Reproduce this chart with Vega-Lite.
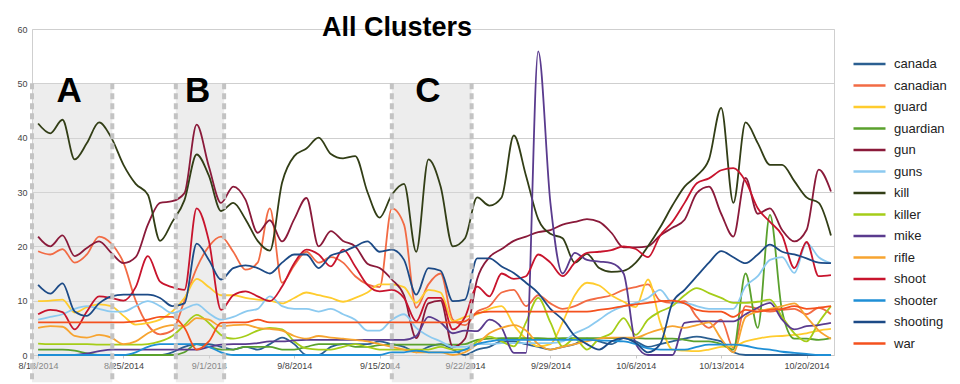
{
"$schema":"https://vega.github.io/schema/vega-lite/v6.json",
"width":802,"height":326,
"autosize":{"type":"none"},
"padding":{"left":32,"top":29,"right":126,"bottom":29},
"background":"white",
"config":{"view":{"stroke":"#cfcfcf"},"font":"Liberation Sans"},
"title":{"text":"All Clusters","anchor":"start","frame":"group","dx":290,"fontSize":27,"fontWeight":"bold","font":"Liberation Sans","color":"#000","baseline":"alphabetic","offset":-38},
"datasets":{
"zones":[{"t":"2014-08-17T12:00","t2":"2014-08-24T02:00"},{"t":"2014-08-29T07:00","t2":"2014-09-02T06:00"},{"t":"2014-09-16T00:00","t2":"2014-09-22T13:00"}],
"edges":[{"t":"2014-08-17T12:00"},{"t":"2014-08-24T02:00"},{"t":"2014-08-29T07:00"},{"t":"2014-09-02T06:00"},{"t":"2014-09-16T00:00"},{"t":"2014-09-22T13:00"}],
"labels":[{"t":"2014-08-20T13:00","l":"A"},{"t":"2014-08-31T02:00","l":"B"},{"t":"2014-09-18T23:00","l":"C"}],
"series":[
{"t":"2014-08-18T00:00","canada":0,"canadian":19.1,"guard":9.9,"guardian":1,"gun":21.8,"guns":6.5,"kill":42.6,"killer":2.1,"mike":0,"rifle":5,"shoot":7.5,"shooter":0,"shooting":12.9,"war":6},
{"t":"2014-08-19T00:00","canada":0,"canadian":18.5,"guard":10,"guardian":1,"gun":20,"guns":7,"kill":40.8,"killer":2,"mike":0,"rifle":5.3,"shoot":8.3,"shooter":0,"shooting":11.3,"war":6},
{"t":"2014-08-20T00:00","canada":0,"canadian":19.5,"guard":10.2,"guardian":1,"gun":22,"guns":7.5,"kill":43.3,"killer":2,"mike":0,"rifle":5.2,"shoot":7.9,"shooter":0,"shooting":13.2,"war":6},
{"t":"2014-08-21T00:00","canada":0,"canadian":17,"guard":7.8,"guardian":0.8,"gun":18.2,"guns":8.5,"kill":36,"killer":2,"mike":0,"rifle":3.5,"shoot":4.7,"shooter":0,"shooting":8,"war":6},
{"t":"2014-08-22T00:00","canada":0,"canadian":18.5,"guard":8.8,"guardian":0.3,"gun":19.7,"guns":9,"kill":39,"killer":2,"mike":0.3,"rifle":3.2,"shoot":8,"shooter":0,"shooting":7.2,"war":6},
{"t":"2014-08-23T00:00","canada":0,"canadian":21.8,"guard":9.3,"guardian":0,"gun":20.9,"guns":8.5,"kill":42.8,"killer":1.9,"mike":0.7,"rifle":3.7,"shoot":10.8,"shooter":0,"shooting":9.5,"war":6},
{"t":"2014-08-24T00:00","canada":0,"canadian":20.5,"guard":9,"guardian":0,"gun":18.8,"guns":8,"kill":40,"killer":1.9,"mike":1,"rifle":3.2,"shoot":10.5,"shooter":0,"shooting":10.8,"war":6},
{"t":"2014-08-25T00:00","canada":0,"canadian":17,"guard":7.2,"guardian":0,"gun":16.9,"guns":8,"kill":35,"killer":1.9,"mike":1,"rifle":2,"shoot":10,"shooter":0,"shooting":11.1,"war":6},
{"t":"2014-08-26T00:00","canada":0,"canadian":10,"guard":5.6,"guardian":0,"gun":18,"guns":9,"kill":31.5,"killer":1.9,"mike":1,"rifle":2.5,"shoot":12.5,"shooter":0.5,"shooting":11.1,"war":6.2},
{"t":"2014-08-27T00:00","canada":0,"canadian":5.5,"guard":5.9,"guardian":0,"gun":24,"guns":9.9,"kill":29.5,"killer":2,"mike":1,"rifle":4,"shoot":18.2,"shooter":1.5,"shooting":11.1,"war":6.5},
{"t":"2014-08-28T00:00","canada":0,"canadian":3.8,"guard":6.5,"guardian":0,"gun":28,"guns":9,"kill":21,"killer":2.5,"mike":1,"rifle":5,"shoot":13.5,"shooter":2,"shooting":10.5,"war":7},
{"t":"2014-08-29T00:00","canada":0.5,"canadian":4.5,"guard":8,"guardian":0,"gun":28.3,"guns":7.7,"kill":24.5,"killer":3.5,"mike":1,"rifle":5.5,"shoot":12.5,"shooter":2,"shooting":9,"war":7},
{"t":"2014-08-30T00:00","canada":1.5,"canadian":10,"guard":10.5,"guardian":0.5,"gun":29.8,"guns":8.5,"kill":28.5,"killer":5.5,"mike":1,"rifle":5.3,"shoot":12,"shooter":2,"shooting":9.5,"war":5},
{"t":"2014-08-31T00:00","canada":2,"canadian":16,"guard":14,"guardian":2,"gun":42.4,"guns":9.3,"kill":36.9,"killer":7.4,"mike":1,"rifle":6.8,"shoot":27,"shooter":2,"shooting":20.5,"war":1},
{"t":"2014-09-01T00:00","canada":2,"canadian":20,"guard":12.5,"guardian":1.5,"gun":34.7,"guns":7.7,"kill":33,"killer":5.9,"mike":1.5,"rifle":6.5,"shoot":21,"shooter":1.5,"shooting":17.5,"war":2.5},
{"t":"2014-09-02T00:00","canada":1.5,"canadian":21.8,"guard":11,"guardian":1,"gun":28,"guns":6.5,"kill":26.5,"killer":3.7,"mike":1.9,"rifle":5.3,"shoot":8.3,"shooter":0.5,"shooting":13.9,"war":5.9},
{"t":"2014-09-03T00:00","canada":1,"canadian":19,"guard":11,"guardian":1,"gun":31,"guns":7,"kill":28,"killer":3,"mike":2,"rifle":5.5,"shoot":11,"shooter":0,"shooting":16,"war":6},
{"t":"2014-09-04T00:00","canada":1.5,"canadian":15.7,"guard":10.5,"guardian":1.5,"gun":28.6,"guns":8,"kill":25,"killer":3.5,"mike":2,"rifle":5.6,"shoot":11.7,"shooter":0,"shooting":16.5,"war":6},
{"t":"2014-09-05T00:00","canada":1,"canadian":17,"guard":10.2,"guardian":1.5,"gun":22.5,"guns":8.5,"kill":21,"killer":4.5,"mike":2.2,"rifle":5,"shoot":10.8,"shooter":0,"shooting":16,"war":6.5},
{"t":"2014-09-06T00:00","canada":2,"canadian":27,"guard":10,"guardian":1.5,"gun":24.8,"guns":10.8,"kill":19.2,"killer":5,"mike":2.5,"rifle":4.8,"shoot":9.9,"shooter":0,"shooting":15,"war":6},
{"t":"2014-09-07T00:00","canada":3.2,"canadian":13.3,"guard":9.5,"guardian":1,"gun":20.9,"guns":9,"kill":31.7,"killer":4.7,"mike":2.5,"rifle":4.5,"shoot":12.6,"shooter":0,"shooting":17,"war":6},
{"t":"2014-09-08T00:00","canada":2,"canadian":16.5,"guard":10.5,"guardian":1,"gun":25,"guns":8.5,"kill":36.6,"killer":2.5,"mike":2.7,"rifle":3.5,"shoot":16.9,"shooter":0,"shooting":18.5,"war":6},
{"t":"2014-09-09T00:00","canada":0,"canadian":19,"guard":11.5,"guardian":1.5,"gun":28.9,"guns":8.5,"kill":38,"killer":1.2,"mike":2.8,"rifle":3,"shoot":19.4,"shooter":0,"shooting":18.5,"war":6},
{"t":"2014-09-10T00:00","canada":0,"canadian":17,"guard":11,"guardian":2,"gun":20,"guns":8,"kill":40,"killer":1,"mike":2.8,"rifle":3.5,"shoot":18.5,"shooter":0,"shooting":16,"war":6},
{"t":"2014-09-11T00:00","canada":1.5,"canadian":18,"guard":10.5,"guardian":2,"gun":22.8,"guns":8.5,"kill":37,"killer":1,"mike":2.8,"rifle":3.2,"shoot":16.3,"shooter":0,"shooting":18.3,"war":6},
{"t":"2014-09-12T00:00","canada":2,"canadian":17,"guard":9.8,"guardian":2,"gun":21,"guns":7.5,"kill":36.2,"killer":1.5,"mike":2.8,"rifle":3,"shoot":19.4,"shooter":0,"shooting":19,"war":6},
{"t":"2014-09-13T00:00","canada":2,"canadian":14.5,"guard":10.5,"guardian":1.5,"gun":20,"guns":6.5,"kill":36.6,"killer":2,"mike":2.8,"rifle":2.8,"shoot":16.3,"shooter":0,"shooting":20,"war":6},
{"t":"2014-09-14T00:00","canada":2,"canadian":13,"guard":11.5,"guardian":1.5,"gun":16.8,"guns":4.5,"kill":30,"killer":1.5,"mike":2.8,"rifle":2.5,"shoot":12.9,"shooter":0,"shooting":20.9,"war":6},
{"t":"2014-09-15T00:00","canada":2.5,"canadian":12.5,"guard":13,"guardian":1.8,"gun":16,"guns":4.5,"kill":25.3,"killer":1,"mike":2.8,"rifle":2,"shoot":11.7,"shooter":0,"shooting":19,"war":6},
{"t":"2014-09-16T00:00","canada":2,"canadian":27,"guard":13,"guardian":1.9,"gun":13.9,"guns":6.5,"kill":29.5,"killer":1,"mike":2.8,"rifle":1.5,"shoot":12,"shooter":0.5,"shooting":19.4,"war":6},
{"t":"2014-09-17T00:00","canada":1.5,"canadian":24,"guard":12.5,"guardian":1.9,"gun":11,"guns":7.5,"kill":31.5,"killer":1,"mike":2.8,"rifle":1,"shoot":10.5,"shooter":0.5,"shooting":17.5,"war":6},
{"t":"2014-09-18T00:00","canada":0.5,"canadian":8.7,"guard":9.6,"guardian":1.9,"gun":3.1,"guns":5,"kill":19,"killer":1,"mike":3.5,"rifle":0.5,"shoot":6.2,"shooter":0.8,"shooting":11.1,"war":6},
{"t":"2014-09-19T00:00","canada":1.5,"canadian":13,"guard":12,"guardian":1.9,"gun":9.5,"guns":3.5,"kill":36,"killer":1,"mike":7,"rifle":0.5,"shoot":10.5,"shooter":0.5,"shooting":16,"war":6},
{"t":"2014-09-20T00:00","canada":2,"canadian":15,"guard":11.5,"guardian":1.9,"gun":10,"guns":2.5,"kill":31,"killer":1.5,"mike":6,"rifle":0.5,"shoot":10.5,"shooter":0.5,"shooting":15.5,"war":6},
{"t":"2014-09-21T00:00","canada":1,"canadian":6.5,"guard":6.2,"guardian":1.9,"gun":1.5,"guns":1.5,"kill":20,"killer":1,"mike":4,"rifle":0,"shoot":4.7,"shooter":0.5,"shooting":9.9,"war":6},
{"t":"2014-09-22T00:00","canada":0,"canadian":5.5,"guard":7,"guardian":2,"gun":3,"guns":1.5,"kill":21.5,"killer":1,"mike":4.5,"rifle":0.5,"shoot":7,"shooter":1,"shooting":10.2,"war":6.2},
{"t":"2014-09-23T00:00","canada":1,"canadian":8,"guard":7.5,"guardian":2.8,"gun":14,"guns":2,"kill":29,"killer":2.5,"mike":4.4,"rifle":2,"shoot":12.6,"shooter":2,"shooting":17.8,"war":7.7},
{"t":"2014-09-24T00:00","canada":1.5,"canadian":9,"guard":8.5,"guardian":3,"gun":18,"guns":2,"kill":27.5,"killer":3.4,"mike":6.5,"rifle":4,"shoot":10.8,"shooter":2.5,"shooting":17.8,"war":8},
{"t":"2014-09-25T00:00","canada":2.5,"canadian":11.5,"guard":9,"guardian":3.1,"gun":19.5,"guns":2.2,"kill":29,"killer":2.5,"mike":5,"rifle":5,"shoot":15,"shooter":2.8,"shooting":16.3,"war":8},
{"t":"2014-09-26T00:00","canada":2.5,"canadian":12,"guard":5.5,"guardian":3.1,"gun":21,"guns":2.2,"kill":40.4,"killer":1.6,"mike":0.4,"rifle":5.5,"shoot":14,"shooter":2.8,"shooting":15.1,"war":8},
{"t":"2014-09-27T00:00","canada":2,"canadian":9,"guard":3,"guardian":3.1,"gun":21.8,"guns":2.2,"kill":33,"killer":6,"mike":0.4,"rifle":4.5,"shoot":14.5,"shooter":2.8,"shooting":13.3,"war":8},
{"t":"2014-09-28T00:00","canada":1.5,"canadian":11,"guard":1.6,"guardian":3.1,"gun":22.6,"guns":2.2,"kill":25,"killer":10.5,"mike":55.9,"rifle":2,"shoot":18.5,"shooter":2.8,"shooting":11.4,"war":8},
{"t":"2014-09-29T00:00","canada":1,"canadian":9.5,"guard":2,"guardian":3,"gun":23,"guns":2.2,"kill":22.3,"killer":6,"mike":28,"rifle":1,"shoot":17,"shooter":2.8,"shooting":8.5,"war":8},
{"t":"2014-09-30T00:00","canada":1.5,"canadian":8.5,"guard":6,"guardian":3.1,"gun":24,"guns":2.5,"kill":21.5,"killer":1.6,"mike":15,"rifle":1.5,"shoot":14.5,"shooter":2.8,"shooting":6.5,"war":8},
{"t":"2014-10-01T00:00","canada":2,"canadian":9,"guard":11,"guardian":3.1,"gun":24.5,"guns":4,"kill":17,"killer":3,"mike":18.8,"rifle":2,"shoot":17,"shooter":2.8,"shooting":3.5,"war":8},
{"t":"2014-10-02T00:00","canada":3,"canadian":10,"guard":13.3,"guardian":3.1,"gun":25,"guns":5,"kill":18.6,"killer":1,"mike":17.5,"rifle":2.5,"shoot":18.8,"shooter":2.8,"shooting":2,"war":8},
{"t":"2014-10-03T00:00","canada":2.5,"canadian":10.5,"guard":12.8,"guardian":3.1,"gun":24.5,"guns":6.5,"kill":16,"killer":3,"mike":17.2,"rifle":3,"shoot":19,"shooter":2.7,"shooting":1,"war":8.3},
{"t":"2014-10-04T00:00","canada":2,"canadian":11,"guard":11,"guardian":3.1,"gun":22.5,"guns":8,"kill":15.3,"killer":4,"mike":16.9,"rifle":3.2,"shoot":19.3,"shooter":2.6,"shooting":2.5,"war":8.6},
{"t":"2014-10-05T00:00","canada":3.1,"canadian":12,"guard":9.8,"guardian":3.1,"gun":19.8,"guns":9,"kill":15.5,"killer":6.8,"mike":15,"rifle":3.2,"shoot":20,"shooter":2.5,"shooting":3.1,"war":9},
{"t":"2014-10-06T00:00","canada":2.5,"canadian":12.5,"guard":8.8,"guardian":3.1,"gun":19.8,"guns":9.6,"kill":17,"killer":3.7,"mike":2,"rifle":3.2,"shoot":19.5,"shooter":2,"shooting":2.2,"war":9.3},
{"t":"2014-10-07T00:00","canada":1.5,"canadian":13,"guard":13.9,"guardian":3,"gun":20,"guns":10.5,"kill":20,"killer":6.5,"mike":0,"rifle":4,"shoot":18,"shooter":1.2,"shooting":0.5,"war":9.6},
{"t":"2014-10-08T00:00","canada":2,"canadian":10,"guard":6,"guardian":3,"gun":22,"guns":12,"kill":23.5,"killer":8,"mike":0,"rifle":4.7,"shoot":22,"shooter":1,"shooting":2,"war":9.9},
{"t":"2014-10-09T00:00","canada":2.5,"canadian":9.6,"guard":1,"guardian":3,"gun":23.4,"guns":9.6,"kill":27.5,"killer":9,"mike":0,"rifle":5.3,"shoot":24.5,"shooter":1,"shooting":9.6,"war":10},
{"t":"2014-10-10T00:00","canada":3,"canadian":9.9,"guard":0.8,"guardian":2.8,"gun":24.9,"guns":9.6,"kill":31,"killer":11,"mike":5.9,"rifle":5,"shoot":28,"shooter":1,"shooting":12,"war":9.5},
{"t":"2014-10-11T00:00","canada":3.4,"canadian":7,"guard":0.7,"guardian":2.5,"gun":29.8,"guns":9,"kill":33,"killer":12.3,"mike":6.2,"rifle":5.5,"shoot":31.6,"shooter":1.5,"shooting":14.5,"war":8.3},
{"t":"2014-10-12T00:00","canada":3,"canadian":5,"guard":1,"guardian":2.5,"gun":31,"guns":8.5,"kill":36,"killer":11.4,"mike":6.2,"rifle":6,"shoot":32.5,"shooter":1.9,"shooting":17,"war":8},
{"t":"2014-10-13T00:00","canada":2.5,"canadian":6.5,"guard":1.5,"guardian":2,"gun":26,"guns":8.5,"kill":45.5,"killer":10.5,"mike":6.2,"rifle":3,"shoot":34,"shooter":1.9,"shooting":19.1,"war":8},
{"t":"2014-10-14T00:00","canada":0.5,"canadian":1.3,"guard":1.6,"guardian":1,"gun":21.8,"guns":8.5,"kill":28,"killer":9.6,"mike":6.2,"rifle":0.5,"shoot":34.4,"shooter":1.9,"shooting":18,"war":7},
{"t":"2014-10-15T00:00","canada":0,"canadian":9,"guard":2.5,"guardian":15,"gun":32.6,"guns":12.6,"kill":42.8,"killer":9.6,"mike":7.5,"rifle":7,"shoot":32,"shooter":1.7,"shooting":16.9,"war":8.3},
{"t":"2014-10-16T00:00","canada":0,"canadian":8.5,"guard":3,"guardian":5,"gun":26,"guns":14.5,"kill":39,"killer":9.8,"mike":8.7,"rifle":8,"shoot":27,"shooter":1.2,"shooting":18.5,"war":8},
{"t":"2014-10-17T00:00","canada":0,"canadian":8,"guard":3.4,"guardian":25.8,"gun":27,"guns":17.5,"kill":35,"killer":10.2,"mike":9.6,"rifle":8.5,"shoot":24.5,"shooter":1,"shooting":20.3,"war":8.3},
{"t":"2014-10-18T00:00","canada":0,"canadian":8.3,"guard":3.5,"guardian":8,"gun":23,"guns":18,"kill":35,"killer":7,"mike":6.5,"rifle":9,"shoot":22,"shooter":0.6,"shooting":19,"war":8.5},
{"t":"2014-10-19T00:00","canada":0,"canadian":8.5,"guard":3.7,"guardian":3,"gun":20.9,"guns":15.1,"kill":32,"killer":4,"mike":4.7,"rifle":9.5,"shoot":16,"shooter":0.4,"shooting":18.5,"war":9},
{"t":"2014-10-20T00:00","canada":0,"canadian":7.5,"guard":4,"guardian":3,"gun":23,"guns":20.6,"kill":29,"killer":2.5,"mike":5.3,"rifle":7,"shoot":20.8,"shooter":0.2,"shooting":17.8,"war":8.5},
{"t":"2014-10-21T00:00","canada":0,"canadian":8.7,"guard":4.5,"guardian":2.8,"gun":34.1,"guns":18,"kill":28,"killer":6,"mike":5.5,"rifle":4.5,"shoot":14.5,"shooter":0,"shooting":17,"war":8.7},
{"t":"2014-10-22T00:00","canada":0,"canadian":7.5,"guard":4.8,"guardian":3.1,"gun":30.1,"guns":16.9,"kill":22,"killer":9,"mike":5.9,"rifle":3,"shoot":14.7,"shooter":0,"shooting":16.9,"war":9}
]},
"encoding":{
"x":{"field":"t","type":"temporal",
"scale":{"domain":[{"year":2014,"month":8,"date":17,"hours":12},{"year":2014,"month":10,"date":22,"hours":6}]},
"axis":{"values":[{"year":2014,"month":8,"date":18},{"year":2014,"month":8,"date":25},{"year":2014,"month":9,"date":1},{"year":2014,"month":9,"date":8},{"year":2014,"month":9,"date":15},{"year":2014,"month":9,"date":22},{"year":2014,"month":9,"date":29},{"year":2014,"month":10,"date":6},{"year":2014,"month":10,"date":13},{"year":2014,"month":10,"date":20}],
"format":"%-m/%-d/%Y","labelFontSize":9,"labelColor":"#444444","labelFont":"Liberation Sans","grid":false,"domainColor":"#c8c8c8","ticks":true,"tickColor":"#c8c8c8","tickSize":3,"labelPadding":3,"title":null,"labelOverlap":false,"labelFlush":false}}
},
"layer":[
{"data":{"name":"zones"},"mark":{"type":"rect","fill":"#d6d6d6","opacity":0.45},
 "encoding":{"x2":{"field":"t2"},"y":{"datum":50,"type":"quantitative","scale":{"domain":[0,60],"nice":false}},"y2":{"datum":-5}}},
{"data":{"name":"series"},
 "transform":[{"fold":["canada","canadian","guard","guardian","gun","guns","kill","killer","mike","rifle","shoot","shooter","shooting","war"],"as":["term","value"]}],
 "mark":{"type":"line","interpolate":"monotone","strokeWidth":1.8},
 "encoding":{
  "y":{"field":"value","type":"quantitative","scale":{"domain":[0,60],"nice":false},
   "axis":{"values":[0,10,20,30,40,50,60],"grid":true,"gridColor":"#cfcfcf","domain":false,"ticks":false,"labelFontSize":9,"labelColor":"#444444","labelFont":"Liberation Sans","labelPadding":5,"title":null}},
  "color":{"field":"term","type":"nominal",
   "scale":{"domain":["canada","canadian","guard","guardian","gun","guns","kill","killer","mike","rifle","shoot","shooter","shooting","war"],
    "range":["#2b5f91","#f26b44","#ffcc2e","#5aa12d","#8a1a3a","#8ccaf0","#323e16","#a5cd18","#5a3b8e","#f7a430","#c8142d","#1f8fd6","#1c4a86","#f4511e"]},
   "legend":{"orient":"none","legendX":820,"legendY":27,"title":null,"symbolType":"stroke","symbolSize":1024,"symbolStrokeWidth":2.5,"labelFontSize":13,"labelFont":"Liberation Sans","labelColor":"#222222","labelOffset":7,"rowPadding":5.5,"clipHeight":16,"padding":0,"labelLimit":120}}
 }},
{"data":{"name":"edges"},"mark":{"type":"rule","color":"#c3c3c3","strokeWidth":4,"strokeDash":[6,4]},
 "encoding":{"y":{"datum":50,"type":"quantitative","scale":{"domain":[0,60],"nice":false}},"y2":{"datum":-5}}},
{"data":{"name":"labels"},"mark":{"type":"text","fontSize":35,"fontWeight":"bold","font":"Liberation Sans","baseline":"alphabetic","align":"center","color":"#000000"},
 "encoding":{"y":{"datum":46.6,"type":"quantitative","scale":{"domain":[0,60],"nice":false}},"text":{"field":"l"}}}
]
}
